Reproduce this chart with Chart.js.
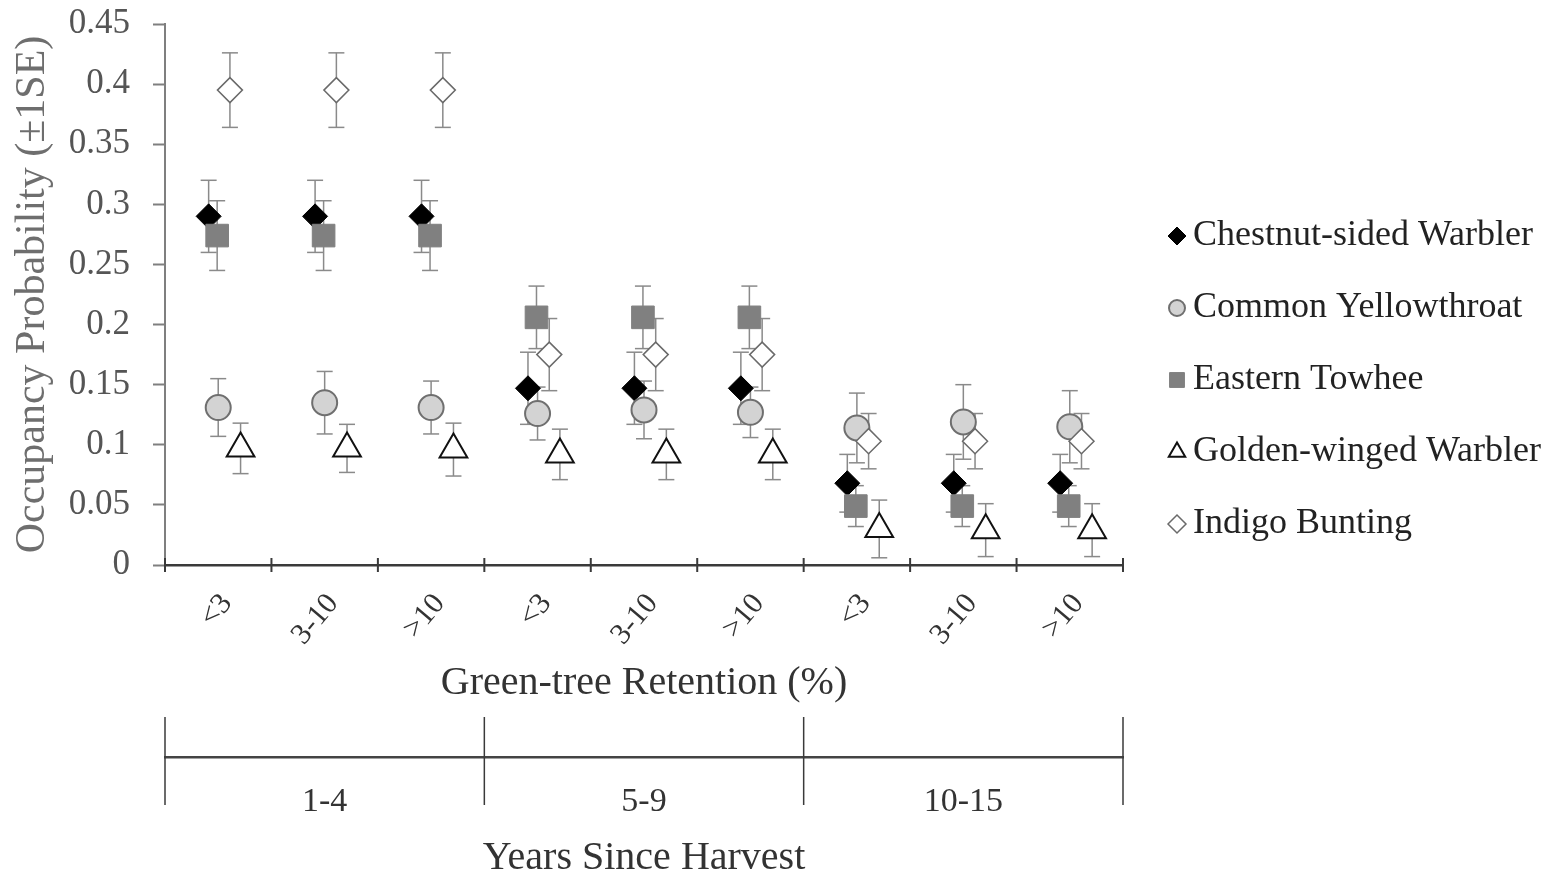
<!DOCTYPE html>
<html><head><meta charset="utf-8">
<script src="https://cdn.jsdelivr.net/npm/chart.js@4.4.1/dist/chart.umd.min.js"></script>
<style>html,body{margin:0;padding:0;background:#fff;} #wrap{width:1553px;height:878px;}</style>
</head><body><div id="wrap"><canvas id="c" width="1553" height="878"></canvas></div>
<script>
const categories = ["<3", "3-10", ">10", "<3", "3-10", ">10", "<3", "3-10", ">10"];
const harvestGroups = ["1-4", "5-9", "10-15"];
const chestnutSided = [0.290, 0.290, 0.290, 0.147, 0.147, 0.147, 0.068, 0.068, 0.068];
const chestnutSidedSE = [0.030, 0.030, 0.030, 0.030, 0.030, 0.030, 0.024, 0.024, 0.024];
const commonYellowthroat = [0.131, 0.135, 0.131, 0.126, 0.129, 0.127, 0.114, 0.119, 0.115];
const commonYellowthroatSE = [0.024, 0.026, 0.022, 0.022, 0.024, 0.021, 0.029, 0.031, 0.030];
const easternTowhee = [0.274, 0.274, 0.274, 0.206, 0.206, 0.206, 0.049, 0.049, 0.049];
const easternTowheeSE = [0.029, 0.029, 0.029, 0.026, 0.026, 0.026, 0.017, 0.017, 0.017];
const goldenWinged = [0.097, 0.097, 0.096, 0.092, 0.092, 0.092, 0.030, 0.029, 0.029];
const goldenWingedSE = [0.021, 0.020, 0.022, 0.021, 0.021, 0.021, 0.024, 0.022, 0.022];
const indigoBunting = [0.395, 0.395, 0.395, 0.175, 0.175, 0.175, 0.103, 0.103, 0.103];
const indigoBuntingSE = [0.031, 0.031, 0.031, 0.030, 0.030, 0.030, 0.023, 0.023, 0.023];

const series = [
  {label: 'Chestnut-sided Warbler', values: chestnutSided, se: chestnutSidedSE, offset: -0.09, pointStyle: 'rectRot', radius: 12.5, legendRadius: 9, bg: '#000000', border: '#000000', bw: 1, order: 5},
  {label: 'Common Yellowthroat', values: commonYellowthroat, se: commonYellowthroatSE, offset: 0.0, pointStyle: 'circle', radius: 12.5, legendRadius: 8, bg: '#d3d3d3', border: '#6f6f6f', bw: 2, order: 4},
  {label: 'Eastern Towhee', values: easternTowhee, se: easternTowheeSE, offset: -0.01, pointStyle: 'rect', radius: 16, legendRadius: 10.5, bg: '#808080', border: '#808080', bw: 1, order: 3},
  {label: 'Golden-winged Warbler', values: goldenWinged, se: goldenWingedSE, offset: 0.21, pointStyle: 'triangle', radius: 16, legendRadius: 9.5, bg: '#ffffff', border: '#111111', bw: 2, order: 2},
  {label: 'Indigo Bunting', values: indigoBunting, se: indigoBuntingSE, offset: 0.11, pointStyle: 'rectRot', radius: 12.5, legendRadius: 9, bg: '#ffffff', border: '#6a6a6a', bw: 1.5, order: 1}
];

const perGroup = categories.length / harvestGroups.length;
const xPos = (i, off) => i + 0.5 + off;
const errColor = '#8a8a8a';
const datasets = [];
series.forEach(s => {
  datasets.push({
    type: 'line', label: '', order: 10, spanGaps: false, fill: false,
    borderColor: errColor, borderWidth: 1.5, pointRadius: 0,
    data: s.values.flatMap((v, i) => [
      {x: xPos(i, s.offset), y: v - s.se[i]},
      {x: xPos(i, s.offset), y: v + s.se[i]},
      {x: xPos(i, s.offset), y: null}
    ])
  });
  datasets.push({
    type: 'scatter', label: '', order: 10,
    pointStyle: 'line', pointRadius: 8, borderColor: errColor, borderWidth: 1.5,
    data: s.values.flatMap((v, i) => [
      {x: xPos(i, s.offset), y: v - s.se[i]},
      {x: xPos(i, s.offset), y: v + s.se[i]}
    ])
  });
});
series.forEach(s => {
  datasets.push({
    type: 'scatter', label: s.label, order: s.order,
    pointStyle: s.pointStyle, pointRadius: s.radius, pointHoverRadius: s.radius,
    backgroundColor: s.bg, borderColor: s.border, borderWidth: s.bw,
    data: s.values.map((v, i) => ({x: xPos(i, s.offset), y: v}))
  });
});

const axisMarks = {
  id: 'axisMarks',
  afterDraw(chart) {
    const {ctx} = chart;
    const x = chart.scales.x, xg = chart.scales.xg;
    ctx.save();
    ctx.strokeStyle = '#3a3a3a';
    ctx.lineWidth = 2;
    for (let i = 0; i <= categories.length; i++) {
      const px = x.getPixelForValue(i);
      ctx.beginPath(); ctx.moveTo(px, x.top - 7); ctx.lineTo(px, x.top + 7); ctx.stroke();
    }
    ctx.lineWidth = 1.5;
    for (let g = 0; g <= harvestGroups.length; g++) {
      const px = xg.getPixelForValue(g * perGroup);
      ctx.beginPath(); ctx.moveTo(px, xg.top - 40); ctx.lineTo(px, xg.top + 48); ctx.stroke();
    }
    ctx.restore();
  }
};

// side legend: symbols use each series' own point style, drawn with Chart.js helpers
const sideLegend = {
  id: 'sideLegend',
  afterDraw(chart, args, opts) {
    const {ctx} = chart;
    const x0 = chart.chartArea.right + opts.symbolGap;
    ctx.save();
    ctx.font = opts.font;
    ctx.textAlign = 'left';
    ctx.textBaseline = 'middle';
    series.forEach((s, k) => {
      const y = opts.top + k * opts.step;
      ctx.fillStyle = s.bg;
      ctx.strokeStyle = s.border;
      ctx.lineWidth = s.bw;
      Chart.helpers.drawPoint(ctx, {pointStyle: s.pointStyle, radius: s.legendRadius, rotation: 0, borderWidth: s.bw}, x0, y);
      ctx.fillStyle = opts.color;
      ctx.fillText(s.label, x0 + opts.textGap, y);
    });
    ctx.restore();
  }
};

Chart.defaults.font.family = "'Liberation Serif', 'Times New Roman', serif";
Chart.defaults.color = '#333';

new Chart(document.getElementById('c'), {
  type: 'scatter',
  data: {datasets},
  options: {
    responsive: false,
    devicePixelRatio: 1,
    animation: false,
    layout: {padding: {top: 24, right: 430, left: 0, bottom: 0}},
    plugins: {
      tooltip: {enabled: false},
      legend: {display: false},
      sideLegend: {symbolGap: 54, textGap: 16, top: 236, step: 72, font: "36px 'Liberation Serif'", color: '#222'}
    },
    scales: {
      x: {
        type: 'linear', position: 'bottom', weight: 0, min: 0, max: categories.length,
        afterBuildTicks: scale => { scale.ticks = categories.map((c, i) => ({value: i + 0.58})); },
        afterFit: scale => { scale.height = 192; },
        grid: {display: false},
        border: {display: true, color: '#3a3a3a', width: 2.5},
        ticks: {
          autoSkip: false, minRotation: 50, maxRotation: 50, padding: 14,
          font: {size: 30}, color: '#333',
          callback: (v, i) => categories[i]
        },
        title: {display: true, text: 'Green-tree Retention (%)', font: {size: 40, lineHeight: 1}, color: '#333', padding: {top: 0, bottom: 54}}
      },
      xg: {
        type: 'linear', position: 'bottom', weight: 1, min: 0, max: categories.length,
        afterBuildTicks: scale => { scale.ticks = harvestGroups.map((g, i) => ({value: i * perGroup + perGroup / 2})); },
        afterFit: scale => { scale.height = 121; },
        grid: {display: false},
        border: {display: true, color: '#444', width: 2.5},
        ticks: {
          autoSkip: false, maxRotation: 0, padding: 17,
          font: {size: 34}, color: '#333',
          callback: (v, i) => harvestGroups[i]
        },
        title: {display: true, text: 'Years Since Harvest', font: {size: 40, lineHeight: 1}, color: '#333', padding: {top: 0, bottom: 0}}
      },
      y: {
        min: 0, max: 0.45,
        afterFit: scale => { scale.width = 165; },
        grid: {display: true, drawOnChartArea: false, drawTicks: true, tickLength: 12, tickColor: '#7f7f7f', tickWidth: 2},
        border: {display: true, color: '#7f7f7f', width: 2},
        ticks: {stepSize: 0.05, padding: 23, font: {size: 35, lineHeight: 0.05}, color: '#555', callback: v => String(+v.toFixed(2))},
        title: {display: true, text: 'Occupancy Probability (±1SE)', font: {size: 42, lineHeight: 1}, color: '#6e6e6e', padding: {top: 12, bottom: 0}}
      }
    }
  },
  plugins: [axisMarks, sideLegend]
});
</script>
</body></html>
